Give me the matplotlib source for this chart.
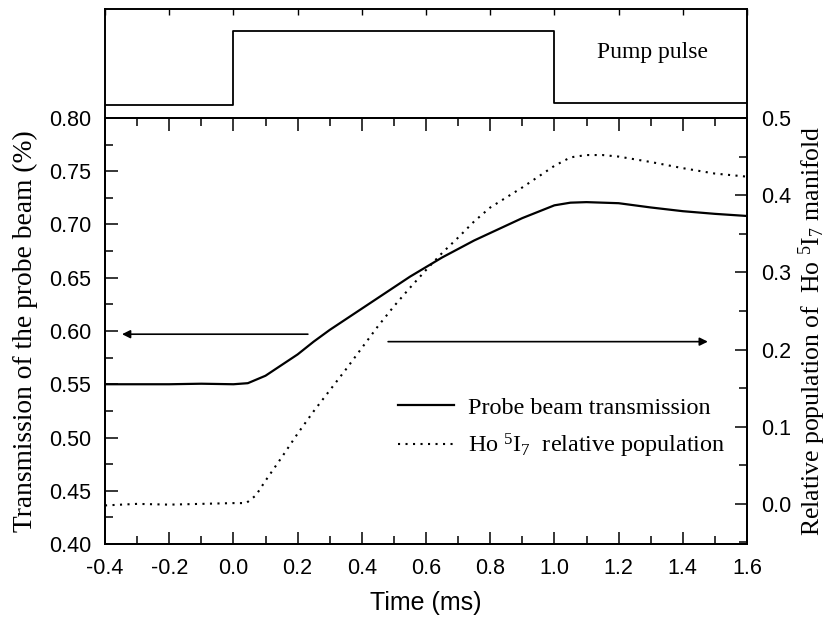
import matplotlib
matplotlib.use("Agg")
import matplotlib.pyplot as plt
from matplotlib.ticker import MultipleLocator, FormatStrFormatter

plt.rcParams['axes.unicode_minus'] = False
plt.rcParams['mathtext.fontset'] = 'custom'
plt.rcParams['mathtext.rm'] = 'Liberation Serif'
plt.rcParams['mathtext.it'] = 'Liberation Serif:italic'

SERIF = 'Liberation Serif'
SANS = 'Liberation Sans'

# pump pulse (top panel), arbitrary units
t_pulse = [-0.4, 0.0, 0.0, 1.0, 1.0, 1.6]
pulse = [0.115, 0.115, 0.795, 0.795, 0.136, 0.136]

# probe beam transmission (left axis)
t_probe = [-0.4, -0.3, -0.2, -0.1, 0.0, 0.045, 0.1, 0.15, 0.2, 0.25, 0.3,
           0.35, 0.4, 0.45, 0.5, 0.55, 0.6, 0.65, 0.7, 0.75, 0.8, 0.85, 0.9,
           0.95, 1.0, 1.05, 1.1, 1.15, 1.2, 1.3, 1.4, 1.5, 1.6]
probe = [0.550, 0.550, 0.550, 0.5505, 0.550, 0.551, 0.558, 0.568, 0.578,
         0.590, 0.601, 0.611, 0.621, 0.631, 0.641, 0.651, 0.660, 0.669,
         0.677, 0.685, 0.692, 0.699, 0.706, 0.712, 0.718, 0.7205, 0.721,
         0.7205, 0.720, 0.716, 0.7125, 0.710, 0.708]

# Ho 5I7 relative population (right axis)
t_pop = [-0.4, -0.3, -0.2, -0.1, 0.0, 0.04, 0.07, 0.1, 0.15, 0.2, 0.25, 0.3,
         0.35, 0.4, 0.45, 0.5, 0.55, 0.6, 0.65, 0.7, 0.75, 0.8, 0.85, 0.9,
         0.95, 1.0, 1.05, 1.1, 1.15, 1.2, 1.3, 1.4, 1.5, 1.6]
pop = [-0.002, 0.000, -0.001, 0.000, 0.001, 0.001, 0.011, 0.030, 0.060,
       0.091, 0.120, 0.147, 0.174, 0.202, 0.230, 0.256, 0.280, 0.303, 0.325,
       0.345, 0.366, 0.384, 0.397, 0.410, 0.424, 0.438, 0.449, 0.452, 0.452,
       0.450, 0.443, 0.435, 0.428, 0.424]

x_ticks = [-0.4, -0.2, 0.0, 0.2, 0.4, 0.6, 0.8, 1.0, 1.2, 1.4, 1.6]

W, H = 832, 621
fig = plt.figure(figsize=(W / 100, H / 100), dpi=100)
L, R, B, T = 105, 747, 544, 118
ax = fig.add_axes([L / W, (H - B) / H, (R - L) / W, (B - T) / H])
axp = fig.add_axes([L / W, (H - T) / H, (R - L) / W, (T - 9) / H])

# top panel: pump pulse
axp.plot(t_pulse, pulse, color='k', lw=1.3)
axp.set_xlim(-0.4, 1.6)
axp.set_ylim(0, 1)
axp.set_yticks([])
axp.set_xticks(x_ticks)
axp.tick_params(axis='x', direction='in', top=True, bottom=False,
                labelbottom=False, length=4, width=1)
for s in axp.spines.values():
    s.set_linewidth(1.4)
axp.text(1.307, 0.60, 'Pump pulse', ha='center', va='center',
         fontsize=17, family=SERIF)

# main panel
l1, = ax.plot(t_probe, probe, color='k', lw=1.6, label='Probe beam transmission')
ax.set_xlim(-0.4, 1.6)
ax.set_ylim(0.40, 0.80)
ax.xaxis.set_major_locator(MultipleLocator(0.2))
ax.xaxis.set_minor_locator(MultipleLocator(0.1))
ax.yaxis.set_major_locator(MultipleLocator(0.05))
ax.yaxis.set_minor_locator(MultipleLocator(0.025))
ax.xaxis.set_major_formatter(FormatStrFormatter('%.1f'))
ax.yaxis.set_major_formatter(FormatStrFormatter('%.2f'))
ax.tick_params(which='both', direction='in', top=True, right=False, width=1.1)
ax.tick_params(which='major', length=9, labelsize=15.5, pad=10)
ax.tick_params(which='minor', length=5.5)
for lab in ax.get_xticklabels() + ax.get_yticklabels():
    lab.set_family(SANS)

ax2 = ax.twinx()
l2, = ax2.plot(t_pop, pop, color='k', lw=1.5, linestyle=(0, (1, 2.6)),
               label='Ho $^{5}$I$_{7}$  relative population')
ax2.set_ylim(-0.052, 0.5)
ax2.yaxis.set_major_locator(MultipleLocator(0.1))
ax2.yaxis.set_minor_locator(MultipleLocator(0.05))
ax2.yaxis.set_major_formatter(FormatStrFormatter('%.1f'))
ax2.tick_params(which='both', direction='in', width=1.1)
ax2.tick_params(which='major', length=9, labelsize=15.5, pad=10)
ax2.tick_params(which='minor', length=5.5)
for lab in ax2.get_yticklabels():
    lab.set_family(SANS)

for a in (ax, ax2):
    for s in a.spines.values():
        s.set_linewidth(1.4)

ax.set_xlabel('Time (ms)', fontsize=18, family=SANS, labelpad=9)
ax.set_ylabel('Transmission of the probe beam (%)', fontsize=19.8,
              family=SERIF, labelpad=8)
ax2.set_ylabel('Relative population of  Ho $^{5}$I$_{7}$ manifold',
               fontsize=18.5, family=SERIF, labelpad=4)

# direction arrows
ax.annotate('', xy=(-0.347, 0.597), xytext=(0.232, 0.597),
            arrowprops=dict(arrowstyle='-|>', color='k', lw=1.2,
                            mutation_scale=12, shrinkA=0, shrinkB=0))
ax.annotate('', xy=(1.478, 0.590), xytext=(0.482, 0.590),
            arrowprops=dict(arrowstyle='-|>', color='k', lw=1.2,
                            mutation_scale=12, shrinkA=0, shrinkB=0))

leg = fig.legend(handles=[l1, l2], loc='upper left',
                 bbox_to_anchor=(398 / W, (H - 397) / H), frameon=False,
                 prop={'family': SERIF, 'size': 17.4}, handlelength=2.3,
                 handletextpad=0.6, labelspacing=0.55, borderpad=0,
                 borderaxespad=0)

fig.savefig('out.png', dpi=100)
